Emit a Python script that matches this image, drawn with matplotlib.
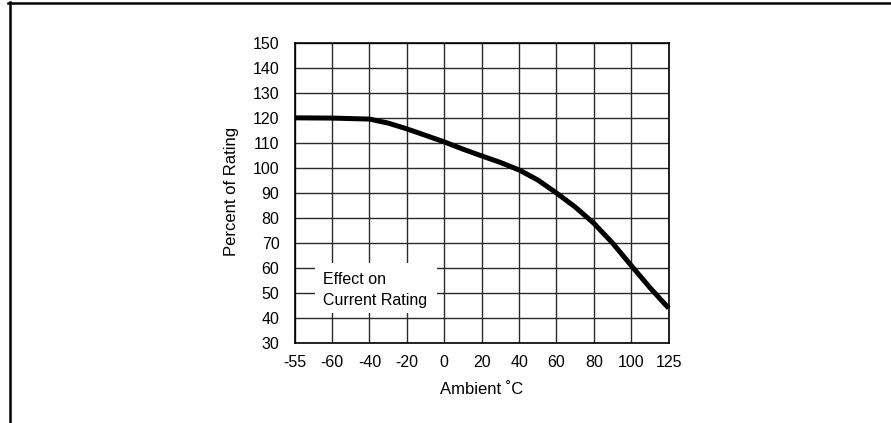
import matplotlib
matplotlib.use("Agg")
import matplotlib.pyplot as plt
from matplotlib.lines import Line2D
from matplotlib.patches import Rectangle

plt.rcParams['font.family'] = ['Liberation Sans', 'DejaVu Sans']

# Category labels on the x axis (evenly spaced as in the reference)
x_labels = ['-55', '-60', '-40', '-20', '0', '20', '40', '60', '80', '100', '125']
y_ticks = [30, 40, 50, 60, 70, 80, 90, 100, 110, 120, 130, 140, 150]

# Curve, at positions along the category axis
curve_pos = [0, 1, 2, 2.5, 3, 3.5, 4, 4.5, 5, 5.5, 6, 6.5, 7, 7.5, 8, 8.5, 9, 9.5, 10]
curve_val = [120, 119.9, 119.5, 117.9, 115.6, 113.0, 110.4, 107.5, 104.8, 102.2,
             99.2, 95.2, 90.0, 84.4, 77.9, 70.0, 61.0, 52.2, 44.0]

fig = plt.figure(figsize=(8.91, 4.23), dpi=100)
ax = fig.add_axes([0.3307, 0.1884, 0.4198, 0.7107])

ax.set_xlim(0, len(x_labels) - 1)
ax.set_ylim(30, 150)
ax.set_xticks(range(len(x_labels)))
ax.set_xticklabels(x_labels)
ax.set_yticks(y_ticks)
ax.set_axisbelow(True)
ax.grid(True, color='#2a2a2a', linewidth=1.0, zorder=0.5)
ax.tick_params(axis='both', length=0, labelsize=11.5, colors='black')
ax.tick_params(axis='y', pad=11)
ax.tick_params(axis='x', pad=8.5)
for s in ax.spines.values():
    s.set_linewidth(1.2)
    s.set_color('black')

ax.add_patch(Rectangle((0.55, 42.2), 3.25, 19.8, facecolor='white',
                       edgecolor='none', zorder=2))
ax.text(0.76, 55.6, 'Effect on', fontsize=11.5, ha='left', va='center', zorder=3)
ax.text(0.76, 47.2, 'Current Rating', fontsize=11.5, ha='left', va='center', zorder=3)

ax.plot(curve_pos, curve_val, color='black', linewidth=3.6,
        solid_capstyle='butt', solid_joinstyle='round', zorder=4, clip_on=False)

ax.set_ylabel('Percent of Rating', fontsize=12, va='center')
ax.set_xlabel('Ambient \u02daC', fontsize=12, va='center')
ax.yaxis.set_label_coords(-0.170, 0.505)
ax.xaxis.set_label_coords(0.5, -0.155)

# Outer frame lines (top and left)
fig.add_artist(Line2D([0.0090, 1.0], [0.993, 0.993], transform=fig.transFigure,
                      color='black', linewidth=1.8))
fig.add_artist(Line2D([0.0112, 0.0112], [0.0, 0.995], transform=fig.transFigure,
                      color='black', linewidth=1.8))

fig.savefig('out.png', dpi=100, facecolor='white')
